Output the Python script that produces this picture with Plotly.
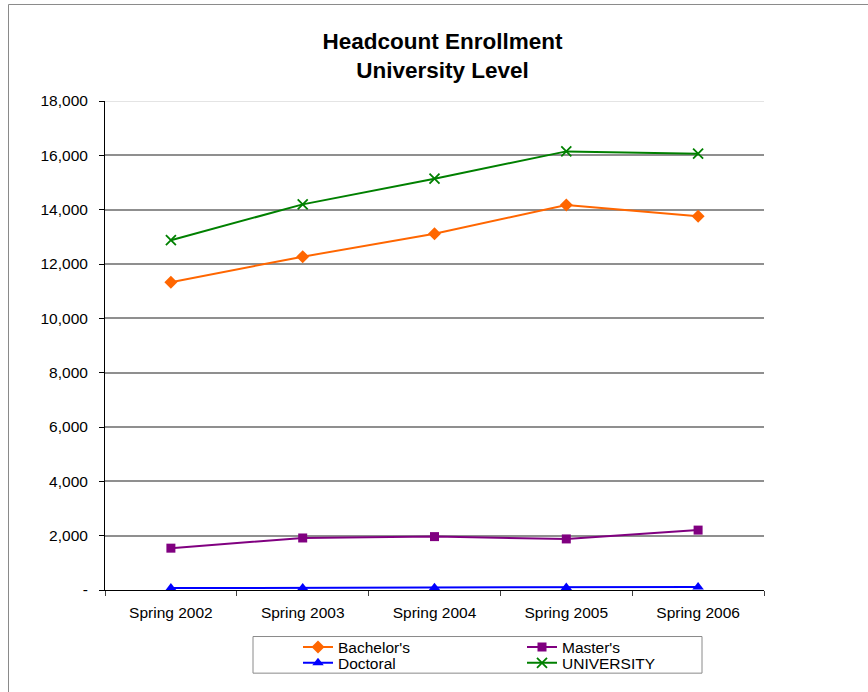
import plotly.graph_objects as go

categories = ["Spring 2002", "Spring 2003", "Spring 2004", "Spring 2005", "Spring 2006"]
bachelors = [11330, 12270, 13115, 14170, 13760]
masters = [1540, 1915, 1965, 1880, 2205]
doctoral = [70, 75, 85, 90, 115]
university = [12875, 14195, 15140, 16145, 16060]

y_tickvals = [0, 2000, 4000, 6000, 8000, 10000, 12000, 14000, 16000, 18000]
y_ticktext = ["-", "2,000", "4,000", "6,000", "8,000", "10,000", "12,000", "14,000", "16,000", "18,000"]

W, H = 868, 692
L, R, T, B = 105, 104, 101, 97
PW = W - L - R
PH = H - T - B

def px_x(p):
    return (p - L) / PW

def px_y(p):
    return (H - B - p) / PH

FONT = "Liberation Sans, Arial, sans-serif"

series = [
    ("Bachelor's", bachelors, "#FF6600", dict(symbol="diamond", size=10), "legend", 300, 653),
    ("Master's", masters, "#800080", dict(symbol="square", size=9), "legend2", 524, 653),
    ("Doctoral", doctoral, "#0000FF", dict(symbol="triangle-up", size=10), "legend3", 300, 669),
    ("UNIVERSITY", university, "#008000", dict(symbol="x-thin-open", size=10, line=dict(width=1.8, color="#008000")), "legend4", 524, 669),
]

fig = go.Figure()
legends = {}
for name, vals, color, marker, leg, lx, ly in series:
    m = dict(marker)
    m["color"] = color
    fig.add_trace(go.Scatter(
        x=categories, y=vals, name=name, mode="lines+markers",
        line=dict(color=color, width=2), marker=m, legend=leg,
    ))
    legends[leg] = dict(
        x=px_x(lx - 2), y=px_y(ly), xanchor="left", yanchor="middle",
        xref="paper", yref="paper", bgcolor="rgba(0,0,0,0)", borderwidth=0,
        font=dict(family=FONT, size=15.5, color="#000000"),
    )

fig.update_layout(
    width=W, height=H,
    margin=dict(l=L, r=R, t=T, b=B, pad=0),
    paper_bgcolor="white", plot_bgcolor="white",
    showlegend=True,
    title=dict(
        text="<b>Headcount Enrollment<br>University Level</b>",
        x=px_x(441), xanchor="center", y=1 - 48.5 / H, yanchor="middle",
        font=dict(family=FONT, size=22.5, color="#000000"),
    ),
    xaxis=dict(
        type="category", showgrid=False, showline=True, linecolor="#000000", linewidth=1,
        ticks="outside", tickson="boundaries", ticklen=5, tickcolor="#404040",
        tickfont=dict(family=FONT, size=15.5, color="#000000"),
        ticklabelstandoff=8, range=[-0.5, 4.5],
    ),
    yaxis=dict(
        range=[0, 18000], tickvals=y_tickvals, ticktext=y_ticktext,
        showgrid=True, gridcolor="#8f8f8f", gridwidth=2,
        showline=True, linecolor="#000000", linewidth=1,
        ticks="outside", ticklen=5, tickcolor="#000000",
        tickfont=dict(family=FONT, size=15.5, color="#000000"),
        ticklabelstandoff=8, zeroline=False,
    ),
    **legends,
)

# light top gridline
fig.add_shape(type="line", xref="paper", yref="y", x0=0, x1=1, y0=18000, y1=18000,
              line=dict(color="#e4e4e4", width=2), layer="above")
# legend box
fig.add_shape(type="rect", xref="paper", yref="paper",
              x0=px_x(253), x1=px_x(702), y0=px_y(679), y1=px_y(642),
              line=dict(color="#8a8a8a", width=1), fillcolor="rgba(0,0,0,0)")
# outer chart border
fig.add_shape(type="rect", xref="paper", yref="paper",
              x0=px_x(8.5), x1=px_x(900), y0=px_y(720), y1=px_y(3.5),
              line=dict(color="#8a8a8a", width=1), fillcolor="rgba(0,0,0,0)")

fig.write_html("out.html", config={"displayModeBar": False},
               post_script="document.body.style.margin='0';")
